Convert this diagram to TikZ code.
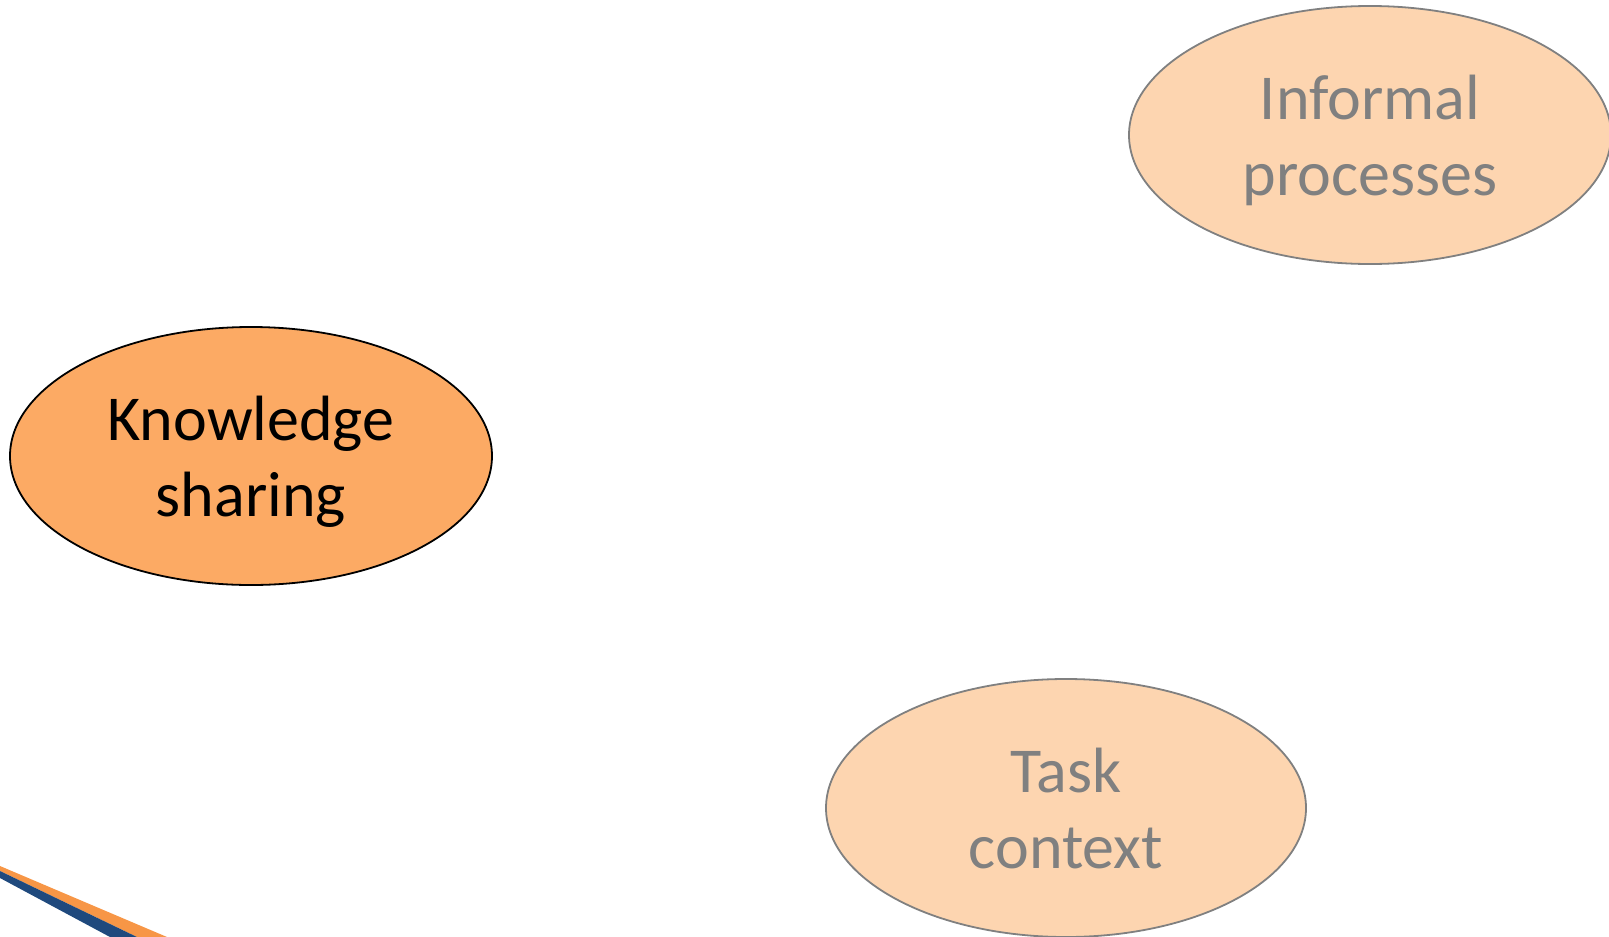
\documentclass[tikz,border=0pt]{standalone}
\usepackage{fontspec}
\setmainfont{Carlito}
\usetikzlibrary{shapes.geometric}
\definecolor{darkorange}{RGB}{252,170,100}
\definecolor{lightorange}{RGB}{253,213,176}
\definecolor{bordergray}{RGB}{128,128,128}
\definecolor{bandblue}{RGB}{31,73,125}
\definecolor{bandorange}{RGB}{247,150,70}
\begin{document}
\begin{tikzpicture}[x=1pt,y=-1pt,
  bubble/.style={ellipse, minimum width=482pt, minimum height=258pt, inner sep=0pt, line width=1.8pt},
  mainbubble/.style={bubble, fill=darkorange, draw=black},
  sidebubble/.style={bubble, fill=lightorange, draw=bordergray},
  bubbletext/.style={align=center, inner sep=0pt, font=\fontsize{64}{76}\selectfont},
  maintext/.style={bubbletext, text=black},
  sidetext/.style={bubbletext, text=bordergray}]
\useasboundingbox (0,0) rectangle (1609,937);
\node[mainbubble] (ks) at (251,456) {};
\node[maintext] (kst) at (251,462) {Knowledge\\sharing};
\node[sidebubble] (ip) at (1370,135) {};
\node[sidetext] (ipt) at (1370,140) {Informal\\processes};
\node[sidebubble, minimum width=480pt] (tc) at (1066,808) {};
\node[sidetext] (tct) at (1066,809) {Task\\context};
\fill[bandorange] (0,866) -- (167,937) -- (137,937) -- (0,871) -- cycle;
\fill[bandblue] (0,871) -- (137,937) -- (110,937) -- (0,878) -- cycle;
\end{tikzpicture}
\end{document}
